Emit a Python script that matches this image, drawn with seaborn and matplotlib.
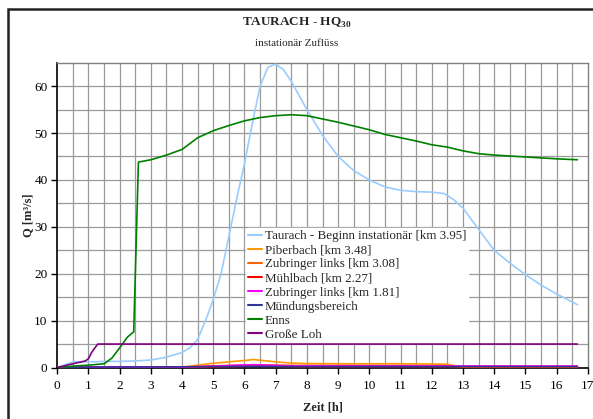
import numpy as np
import pandas as pd
import matplotlib
matplotlib.use("Agg")
import matplotlib.pyplot as plt
import matplotlib.patches as mpatches
import seaborn as sns

# ---- data ----
t_taurach = [0, 0.5, 1, 1.5, 2, 2.5, 3, 3.5, 4, 4.25, 4.5, 4.75, 5, 5.25, 5.5, 5.75, 6, 6.25,
             6.5, 6.75, 7, 7.25, 7.5, 7.75, 8, 8.5, 9, 9.5, 10, 10.5, 11, 11.5, 12, 12.4,
             12.7, 13, 13.5, 14, 14.5, 15, 15.5, 16, 16.67]
q_taurach = [0, 1.2, 1.2, 1.3, 1.3, 1.4, 1.6, 2.2, 3.2, 4.2, 6.0, 10.0, 14.5, 20.0, 28.0, 36.0,
             43.5, 52.0, 60.0, 64.0, 64.7, 63.5, 61.0, 58.0, 55.0, 49.5, 45.0, 42.0, 40.0, 38.5,
             37.8, 37.5, 37.4, 37.1, 35.8, 34.0, 29.5, 25.0, 22.3, 19.8, 17.6, 15.7, 13.4]

t_piber = [0, 4, 5, 6, 6.3, 7, 7.5, 8, 9, 10, 11, 12, 12.5, 12.8, 13, 16.67]
q_piber = [0, 0.1, 0.9, 1.5, 1.7, 1.2, 0.95, 0.85, 0.8, 0.8, 0.8, 0.75, 0.7, 0.3, 0.15, 0.15]

t_zub308 = [0, 4, 5, 6.3, 7.5, 12.5, 13, 16.67]
q_zub308 = [0, 0.05, 0.35, 0.6, 0.45, 0.4, 0.1, 0.1]

t_muehl = [0, 4, 6.3, 8, 16.67]
q_muehl = [0, 0.05, 0.3, 0.2, 0.2]

t_zub181 = [0, 4, 5, 6.3, 7.5, 16.67]
q_zub181 = [0.05, 0.1, 0.3, 0.6, 0.35, 0.3]

t_muend = [0, 1, 4, 6.3, 8, 16.67]
q_muend = [0, 0.1, 0.15, 0.25, 0.2, 0.2]

t_enns = [0, 0.5, 1, 1.5, 1.75, 2, 2.25, 2.45, 2.6, 3, 3.5, 4, 4.5, 5, 5.5, 6, 6.5, 7, 7.5,
          8, 8.5, 9, 9.5, 10, 10.5, 11, 11.5, 12, 12.5, 13, 13.5, 14, 14.5, 15, 15.5, 16, 16.67]
q_enns = [0, 0.3, 0.5, 0.8, 2.0, 4.2, 6.5, 7.6, 43.8, 44.3, 45.3, 46.5, 49.0, 50.5, 51.6, 52.6,
          53.3, 53.7, 53.9, 53.7, 53.0, 52.3, 51.5, 50.7, 49.7, 49.0, 48.3, 47.5, 47.0, 46.2,
          45.6, 45.3, 45.1, 44.9, 44.7, 44.5, 44.3]

t_loh = [0, 0.5, 0.9, 1.0, 1.1, 1.25, 1.3, 16.67]
q_loh = [0, 0.8, 1.4, 1.9, 3.2, 4.6, 5.0, 5.0]

series_names = ["Taurach - Beginn instationär [km 3.95]", "Piberbach [km 3.48]",
                "Zubringer links [km 3.08]", "Mühlbach [km 2.27]",
                "Zubringer links [km 1.81]", "Mündungsbereich", "Enns", "Große Loh"]
series_t = [t_taurach, t_piber, t_zub308, t_muehl, t_zub181, t_muend, t_enns, t_loh]
series_q = [q_taurach, q_piber, q_zub308, q_muehl, q_zub181, q_muend, q_enns, q_loh]
colors = ["#99ccff", "#ff9900", "#ff6600", "#ff0000", "#ff00ff", "#333399", "#008000", "#800080"]

x_ticks = list(range(0, 18))
y_ticks = [0, 10, 20, 30, 40, 50, 60]

# ---- build table ----
frames = []
for name, tt, qq in zip(series_names, series_t, series_q):
    frames.append(pd.DataFrame({"Zeit": tt, "Q": qq, "Serie": name}))
df = pd.concat(frames, ignore_index=True)

sns.set_theme(style="white")
plt.rcParams["font.family"] = ["Liberation Serif", "DejaVu Serif"]
plt.rcParams["mathtext.fontset"] = "custom"
plt.rcParams["mathtext.bf"] = "Liberation Serif:bold"
plt.rcParams["mathtext.rm"] = "Liberation Serif"

fig = plt.figure(figsize=(5.93, 4.19), dpi=100)
ax = fig.add_axes([0.0966, 0.1229, 0.8945, 0.7275])

# grid
for xv in np.arange(0.5, 17, 0.5):
    ax.axvline(xv, color="#9a9a9a", lw=0.9, zorder=0)
for yv in np.arange(5, 65, 5):
    ax.axhline(yv, color="#9a9a9a", lw=0.9, zorder=0)

sns.lineplot(data=df, x="Zeit", y="Q", hue="Serie", hue_order=series_names,
             palette=dict(zip(series_names, colors)), sort=False, estimator=None,
             linewidth=1.2, ax=ax, zorder=3)

ax.set_xlim(0, 17)
ax.set_ylim(0, 65)
ax.set_xticks(x_ticks)
ax.set_yticks(y_ticks)
ax.tick_params(axis="both", labelsize=9.5, length=4, width=1, direction="out",
               bottom=True, left=True, colors="black", pad=3)
ax.tick_params(axis="x", pad=5)
for s in ["left", "bottom"]:
    ax.spines[s].set_color("black")
    ax.spines[s].set_linewidth(1.2)
for s in ["top", "right"]:
    ax.spines[s].set_color("#808080")
    ax.spines[s].set_linewidth(1.0)

ax.set_xlabel("Zeit [h]", fontsize=9, fontweight="bold", labelpad=7)
ax.set_ylabel("Q [m³/s]", fontsize=9, fontweight="bold")
ax.yaxis.set_label_coords(-0.044, 0.5)

leg = ax.legend(loc="upper left", bbox_to_anchor=(0.355, 0.457), fontsize=9.4,
                frameon=True, facecolor="white", edgecolor="white", framealpha=1,
                handlelength=1.07, handletextpad=0.23, labelspacing=0.15,
                borderpad=0.15, borderaxespad=0)
leg.set_zorder(2.5)
for line in leg.get_lines():
    line.set_linewidth(1.5)

fig.text(0.5, 0.946, r"TAURACH - HQ$_{\mathbf{30}}$", ha="center", va="center",
         fontsize=9.5, fontweight="bold")
fig.text(0.5, 0.895, "instationär Zuflüss", ha="center", va="center", fontsize=8)

frame = mpatches.Rectangle((8 / 593, -0.1), 1.2, 1 - 9 / 419 + 0.1, transform=fig.transFigure,
                           fill=False, edgecolor="#222222", linewidth=1.8, clip_on=False)
fig.patches.append(frame)

fig.savefig("out.png", dpi=100)
